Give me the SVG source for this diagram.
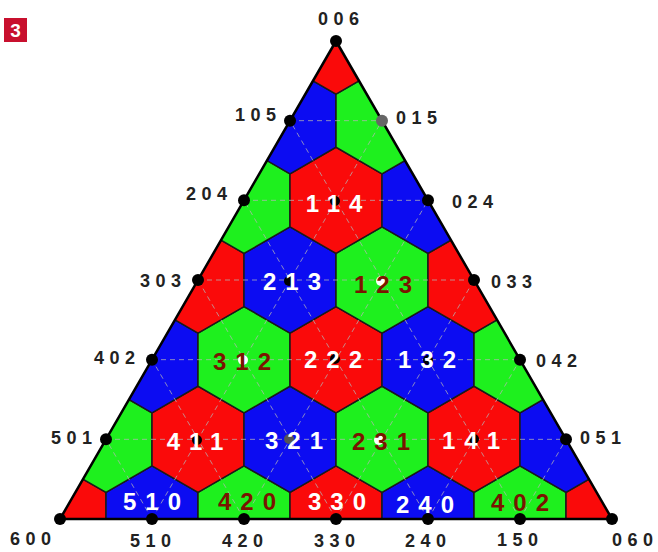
<svg xmlns="http://www.w3.org/2000/svg" xmlns:xlink="http://www.w3.org/1999/xlink" width="658" height="552" viewBox="0 0 658 552">
<style>
.r{fill:#fa0a0a}.g{fill:#1ef01e}.b{fill:#0c0cf2}
.cell{stroke:#1a1a1a;stroke-width:1.5;stroke-linejoin:round}
.grid{stroke:#b4b4b4;stroke-opacity:.75;stroke-width:1;stroke-dasharray:5 4;fill:none}
.lab{font-family:"Liberation Sans",Arial,sans-serif;font-weight:bold;font-size:18px;letter-spacing:5.5px;fill:#222}
.in{font-family:"Liberation Sans",Arial,sans-serif;font-weight:bold;font-size:24px;letter-spacing:9px;text-anchor:middle}
.w{fill:#fff}.d{fill:#7a1400}
.dot{fill:#000}
</style>
<defs>
<path id="hex" d="M0,-53.12 L46,-26.56 L46,26.56 L0,53.12 L-46,26.56 L-46,-26.56Z"/>
<clipPath id="tri"><polygon points="60,519 612,519 336,41"/></clipPath>
</defs>
<rect width="658" height="552" fill="#fff"/>
<rect x="4" y="18" width="23" height="24" fill="#c8102e"/>
<text x="15.5" y="37" font-family="Liberation Sans,Arial,sans-serif" font-weight="bold" font-size="19" fill="#fff" text-anchor="middle">3</text>
<g id="cells" clip-path="url(#tri)" class="cell">
<use id="c600" href="#hex" x="60" y="519" class="r"/>
<use id="c510" href="#hex" x="152" y="519" class="b"/>
<use id="c420" href="#hex" x="244" y="519" class="g"/>
<use id="c330" href="#hex" x="336" y="519" class="r"/>
<use id="c240" href="#hex" x="428" y="519" class="b"/>
<use id="c150" href="#hex" x="520" y="519" class="g"/>
<use id="c060" href="#hex" x="612" y="519" class="r"/>
<use id="c501" href="#hex" x="106" y="439.33" class="g"/>
<use id="c411" href="#hex" x="198" y="439.33" class="r"/>
<use id="c321" href="#hex" x="290" y="439.33" class="b"/>
<use id="c231" href="#hex" x="382" y="439.33" class="g"/>
<use id="c141" href="#hex" x="474" y="439.33" class="r"/>
<use id="c051" href="#hex" x="566" y="439.33" class="b"/>
<use id="c402" href="#hex" x="152" y="359.67" class="b"/>
<use id="c312" href="#hex" x="244" y="359.67" class="g"/>
<use id="c222" href="#hex" x="336" y="359.67" class="r"/>
<use id="c132" href="#hex" x="428" y="359.67" class="b"/>
<use id="c042" href="#hex" x="520" y="359.67" class="g"/>
<use id="c303" href="#hex" x="198" y="280" class="r"/>
<use id="c213" href="#hex" x="290" y="280" class="b"/>
<use id="c123" href="#hex" x="382" y="280" class="g"/>
<use id="c033" href="#hex" x="474" y="280" class="r"/>
<use id="c204" href="#hex" x="244" y="200.33" class="g"/>
<use id="c114" href="#hex" x="336" y="200.33" class="r"/>
<use id="c024" href="#hex" x="428" y="200.33" class="b"/>
<use id="c105" href="#hex" x="290" y="120.67" class="b"/>
<use id="c015" href="#hex" x="382" y="120.67" class="g"/>
<use id="c006" href="#hex" x="336" y="41" class="r"/>
</g>
<g id="connectors" class="grid">
<line x1="106" y1="439.33" x2="566" y2="439.33"/>
<line x1="152" y1="359.67" x2="520" y2="359.67"/>
<line x1="198" y1="280" x2="474" y2="280"/>
<line x1="244" y1="200.33" x2="428" y2="200.33"/>
<line x1="290" y1="120.67" x2="382" y2="120.67"/>
<line x1="152" y1="519" x2="106" y2="439.33"/>
<line x1="244" y1="519" x2="152" y2="359.67"/>
<line x1="336" y1="519" x2="198" y2="280"/>
<line x1="428" y1="519" x2="244" y2="200.33"/>
<line x1="520" y1="519" x2="290" y2="120.67"/>
<line x1="152" y1="519" x2="382" y2="120.67"/>
<line x1="244" y1="519" x2="428" y2="200.33"/>
<line x1="336" y1="519" x2="474" y2="280"/>
<line x1="428" y1="519" x2="520" y2="359.67"/>
<line x1="520" y1="519" x2="566" y2="439.33"/>
</g>
<polygon points="60,519 612,519 336,41" fill="none" stroke="#000" stroke-width="2.5" stroke-linejoin="round"/>
<g id="n006"><circle class="dot" cx="336" cy="41" r="6"/><text class="lab" x="318" y="25">006</text></g>
<g id="n105"><circle class="dot" cx="290" cy="120.67" r="6"/><text class="lab" x="235" y="121">105</text></g>
<g id="n015"><circle cx="382" cy="120.67" r="6" fill="#666"/><text class="lab" x="396" y="124">015</text></g>
<g id="n204"><circle class="dot" cx="244" cy="200.33" r="6"/><text class="lab" x="186" y="200">204</text></g>
<g id="n114"><circle class="dot" cx="335" cy="201" r="5"/><text class="in w" x="338.5" y="212">114</text></g>
<g id="n024"><circle class="dot" cx="428" cy="200.33" r="6"/><text class="lab" x="452" y="208">024</text></g>
<g id="n303"><circle class="dot" cx="198" cy="280" r="6"/><text class="lab" x="140" y="287">303</text></g>
<g id="n213"><circle class="dot" cx="289" cy="281" r="5"/><text class="in w" x="296.5" y="290">213</text></g>
<g id="n123"><circle cx="381" cy="281" r="5" fill="#fff"/><text class="in d" x="387.5" y="293">123</text></g>
<g id="n033"><circle class="dot" cx="474" cy="280" r="6"/><text class="lab" x="491" y="288">033</text></g>
<g id="n402"><circle class="dot" cx="152" cy="359.67" r="6"/><text class="lab" x="94" y="364">402</text></g>
<g id="n312"><circle cx="243" cy="360" r="5" fill="#fff"/><text class="in d" x="246.5" y="370">312</text></g>
<g id="n222"><circle class="dot" cx="335" cy="359" r="5"/><text class="in w" x="337.5" y="368">222</text></g>
<g id="n132"><circle class="dot" cx="428" cy="360" r="5"/><text class="in w" x="431.5" y="368">132</text></g>
<g id="n042"><circle class="dot" cx="520" cy="359.67" r="6"/><text class="lab" x="536" y="367">042</text></g>
<g id="n501"><circle class="dot" cx="106" cy="439.33" r="6"/><text class="lab" x="51" y="444">501</text></g>
<g id="n411"><circle class="dot" cx="197" cy="440" r="5"/><text class="in w" x="199.5" y="450">411</text></g>
<g id="n321"><circle cx="289" cy="439" r="5" fill="#555"/><text class="in w" x="298.5" y="449">321</text></g>
<g id="n231"><circle cx="379" cy="440" r="5" fill="#fff"/><text class="in d" x="385.5" y="450">231</text></g>
<g id="n141"><circle class="dot" cx="474" cy="439" r="5"/><text class="in w" x="475.5" y="449">141</text></g>
<g id="n051"><circle class="dot" cx="566" cy="439.33" r="6"/><text class="lab" x="580" y="444">051</text></g>
<g id="n600"><circle class="dot" cx="60" cy="519" r="6"/><text class="lab" x="10" y="545">600</text></g>
<g id="n510"><circle class="dot" cx="152" cy="519" r="6"/><text class="in w" x="156.5" y="510">510</text><text class="lab" x="130" y="547">510</text></g>
<g id="n420"><circle class="dot" cx="244" cy="519" r="6"/><text class="in d" x="251.5" y="510">420</text><text class="lab" x="222" y="547">420</text></g>
<g id="n330"><circle class="dot" cx="336" cy="519" r="6"/><text class="in w" x="341.5" y="510">330</text><text class="lab" x="314" y="547">330</text></g>
<g id="n240"><circle class="dot" cx="428" cy="519" r="6"/><text class="in w" x="429.5" y="513">240</text><text class="lab" x="405" y="547">240</text></g>
<g id="n150"><circle class="dot" cx="520" cy="519" r="6"/><text class="in d" x="524.5" y="511">402</text><text class="lab" x="497" y="546">150</text></g>
<g id="n060"><circle class="dot" cx="612" cy="519" r="6"/><text class="lab" x="612" y="546">060</text></g>
</svg>
